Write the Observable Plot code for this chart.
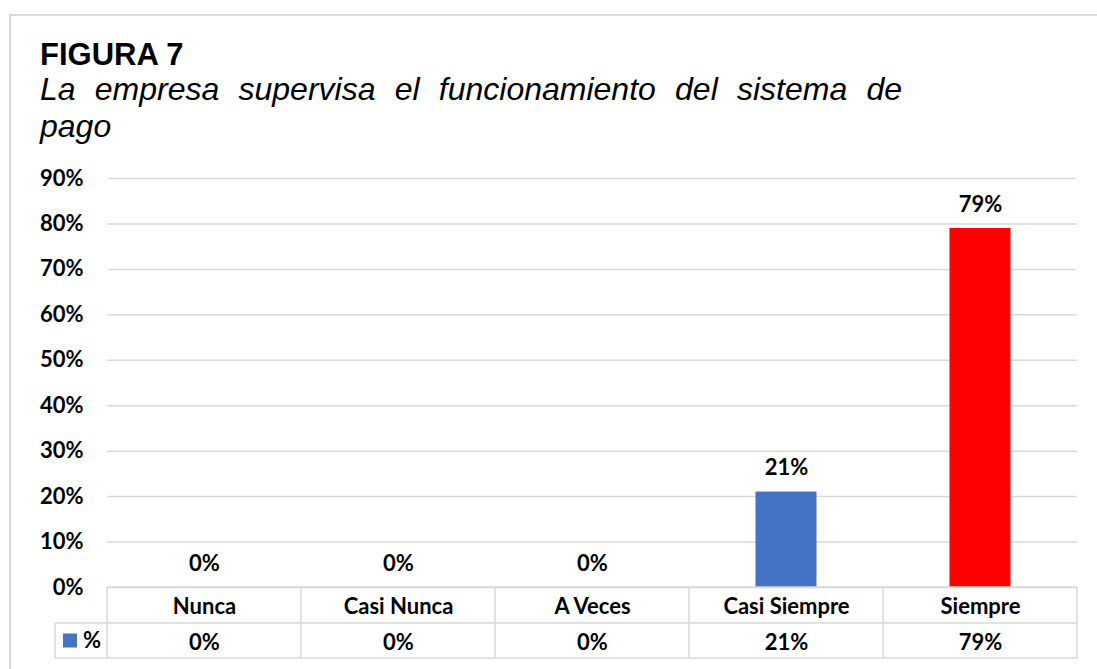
<!DOCTYPE html>
<html><head><meta charset="utf-8">
<script src="https://cdn.jsdelivr.net/npm/d3@7"></script>
<script src="https://cdn.jsdelivr.net/npm/@observablehq/plot@0.6"></script>
<style>
html,body{margin:0;padding:0;background:#fff;overflow:hidden;}
#wrap{position:relative;width:1097px;height:669px;overflow:hidden;background:#fff;}
#border{position:absolute;left:9px;top:14px;width:1200px;height:800px;border:2px solid #d9d9d9;box-sizing:border-box;}
.hd{position:absolute;left:40px;font-family:"Liberation Sans",Arial,sans-serif;color:#000;white-space:nowrap;}
#title{top:39px;font-size:31px;line-height:31px;font-weight:bold;}
#sub1{top:71px;width:862px;font-size:32px;line-height:37px;font-style:italic;text-align:justify;text-align-last:justify;white-space:normal;}
#sub2{top:108px;font-size:32px;line-height:37px;font-style:italic;}
#chart{position:absolute;left:0;top:160px;}
</style>
</head><body>
<div id="wrap">
  <div id="border"></div>
  <div class="hd" id="title">FIGURA 7</div>
  <div class="hd" id="sub1">La empresa supervisa el funcionamiento del sistema de</div>
  <div class="hd" id="sub2">pago</div>
  <div id="chart"></div>
</div>
<script>
const categories = ["Nunca", "Casi Nunca", "A Veces", "Casi Siempre", "Siempre"];
const values = [0, 0, 0, 0.21, 0.79];
const yTicks = [0, 0.1, 0.2, 0.3, 0.4, 0.5, 0.6, 0.7, 0.8, 0.9];
const seriesName = "%";

const data = categories.map((c, i) => ({cat: c, value: values[i]}));
const fmt = d => Math.round(d * 100) + "%";
const FONT = "Lato, 'Open Sans', sans-serif";
const FS = 22;

const plot = Plot.plot({
  width: 1097, height: 509,
  marginTop: 18, marginBottom: 82, marginLeft: 107, marginRight: 20,
  style: {fontFamily: FONT, fontSize: FS + "px", fontWeight: "bold", color: "#000", background: "transparent", overflow: "visible"},
  x: {domain: categories, padding: 0, axis: null},
  y: {domain: [0, 0.9], axis: null},
  color: {type: "identity"},
  marks: [
    Plot.gridY(yTicks, {stroke: "#d9d9d9", strokeOpacity: 1, strokeWidth: 1.5}),
    Plot.axisY(yTicks, {tickSize: 0, tickPadding: 24, tickFormat: fmt, label: null, fontSize: FS, fontWeight: "bold", fill: "#000"}),
    Plot.barY(data, {x: "cat", y: "value", fill: d => d.cat === "Siempre" ? "#FF0000" : "#4472C4", insetLeft: 66.5, insetRight: 66.5}),
    Plot.text(data, {x: "cat", y: "value", text: d => fmt(d.value), dy: -24, fontSize: FS, fontWeight: "bold", fill: "#000"}),
    Plot.text(data, {x: "cat", frameAnchor: "bottom", lineAnchor: "middle", dy: 19, text: "cat", fontSize: FS, fontWeight: "bold", fill: "#000"}),
    Plot.text(data, {x: "cat", frameAnchor: "bottom", lineAnchor: "middle", dy: 55, text: d => fmt(d.value), fontSize: FS, fontWeight: "bold", fill: "#000"})
  ]
});

document.getElementById("chart").appendChild(plot);

// data table grid under the chart, positioned from the plot's scales
const svg = d3.select(plot);
const xs = plot.scale("x"), ys = plot.scale("y");
const bw = xs.bandwidth;
const y0 = ys.apply(0), y1 = y0 + 36, y2 = y0 + 71;
const left = xs.apply(categories[0]);
const right = xs.apply(categories[categories.length - 1]) + bw;
const legendLeft = left - 52;
const g = svg.append("g").attr("stroke", "#d9d9d9").attr("stroke-width", 1.5).attr("fill", "none");
g.append("line").attr("x1", left).attr("x2", right).attr("y1", y0).attr("y2", y0);
g.append("line").attr("x1", legendLeft).attr("x2", right).attr("y1", y1).attr("y2", y1);
g.append("line").attr("x1", legendLeft).attr("x2", right).attr("y1", y2).attr("y2", y2);
g.append("line").attr("x1", legendLeft).attr("x2", legendLeft).attr("y1", y1).attr("y2", y2);
categories.forEach(c => {
  const x = xs.apply(c);
  g.append("line").attr("x1", x).attr("x2", x).attr("y1", y0).attr("y2", y2);
});
g.append("line").attr("x1", right).attr("x2", right).attr("y1", y0).attr("y2", y2);
// legend key
const ym = (y1 + y2) / 2;
svg.append("rect").attr("x", legendLeft + 8).attr("y", ym - 7).attr("width", 14).attr("height", 14).attr("fill", "#4472C4");
svg.append("text").attr("x", legendLeft + 28).attr("y", ym).attr("dy", "0.35em").attr("text-anchor", "start")
  .attr("font-size", FS).attr("font-weight", "bold").attr("font-family", FONT).attr("fill", "#000").text(seriesName);
</script>
</body></html>
